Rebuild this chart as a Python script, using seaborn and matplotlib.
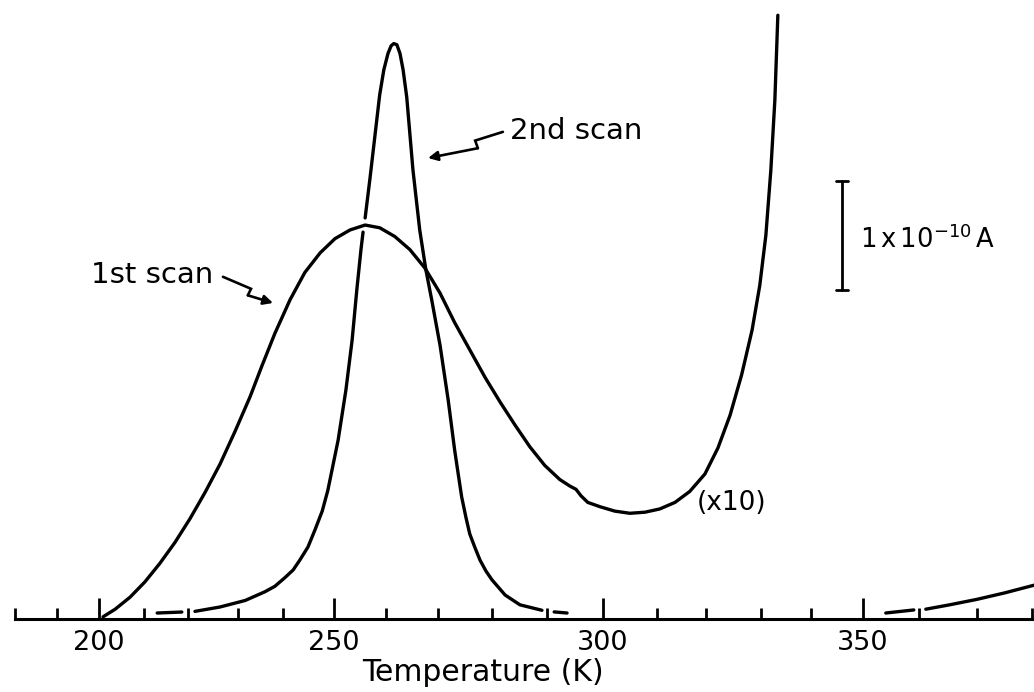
import numpy as np
import pandas as pd
import matplotlib
matplotlib.use("Agg")
import matplotlib.pyplot as plt
import seaborn as sns

# ---------------- data (temperature in K, current in units of 1e-10 A) ----------------
scan1_T = [200.9, 203.6, 206.9, 210.2, 213.6, 217.0, 220.4, 223.4, 226.4, 229.4, 232.7,
           235.3, 238.2, 241.4, 244.3, 247.3, 250.2, 253.1, 256.0, 258.8, 261.7, 264.6,
           267.5, 270.4, 273.1, 275.9, 278.7, 281.5, 284.2, 286.9, 289.6, 292.3, 294.1,
           295.2, 296.1, 297.3, 299.5, 302.2, 305.0, 307.8, 310.6, 313.7, 316.7, 319.8,
           322.2, 324.4, 326.5, 328.4, 329.8, 331.0, 332.0, 332.8, 333.4]
scan1_I = [0.02, 0.09, 0.20, 0.34, 0.51, 0.70, 0.92, 1.16, 1.42, 1.72, 2.04,
           2.32, 2.62, 2.93, 3.18, 3.36, 3.49, 3.57, 3.615, 3.59, 3.51, 3.39,
           3.22, 2.99, 2.72, 2.47, 2.22, 1.99, 1.78, 1.58, 1.41, 1.28, 1.22,
           1.19, 1.13, 1.07, 1.03, 0.99, 0.97, 0.98, 1.01, 1.07, 1.17, 1.33,
           1.57, 1.87, 2.24, 2.65, 3.06, 3.52, 4.12, 4.76, 5.54]

# 2nd scan, drawn in pieces (hand-drawn breaks)
scan2a_T = [213.0, 218.6]
scan2a_I = [0.055, 0.064]
scan2b_T = [221.4, 226.4, 231.6, 236.0, 238.2, 240.4, 242.0, 243.3, 244.9, 246.3, 247.7,
            248.8, 250.8, 252.3, 253.5, 254.4, 255.2, 255.6]
scan2b_I = [0.07, 0.11, 0.17, 0.25, 0.30, 0.38, 0.45, 0.54, 0.66, 0.82, 0.99,
            1.18, 1.64, 2.10, 2.56, 3.02, 3.39, 3.55]
scan2c_T = [256.0, 256.9, 257.9, 258.8, 259.6, 260.4, 261.0, 261.5, 262.1, 262.7, 263.3,
            264.0, 265.2, 266.5, 267.7, 268.8, 270.4, 271.9, 273.1, 273.7, 274.4, 275.2,
            275.9, 276.9, 277.8, 278.9, 280.0, 282.4, 285.1, 289.1]
scan2c_I = [3.68, 4.03, 4.44, 4.81, 5.04, 5.19, 5.26, 5.28, 5.27, 5.19, 5.04,
            4.79, 4.12, 3.57, 3.20, 2.93, 2.51, 2.01, 1.55, 1.35, 1.12, 0.93,
            0.78, 0.65, 0.54, 0.44, 0.36, 0.22, 0.13, 0.08]
scan2d_T = [291.3, 293.6]
scan2d_I = [0.065, 0.055]
scan2e_T = [354.1, 359.1]
scan2e_I = [0.055, 0.083]
scan2f_T = [361.2, 365.3, 370.0, 375.1, 380.4]
scan2f_I = [0.09, 0.13, 0.18, 0.24, 0.31]

major_ticks = [200, 250, 300, 350]
minor_ticks = [180, 190, 210, 220, 230, 240, 260, 270, 280, 290,
               310, 320, 330, 340, 360, 370, 380]
tick_labels = ["200", "250", "300", "350"]

# hand-drawn (slightly non-uniform) temperature axis calibration
axis_cal_T = [170, 180, 190, 200, 210, 220, 230, 240, 250, 260, 270, 280, 290,
              300, 310, 320, 330, 340, 350, 360, 370, 380, 390]
axis_cal_pos = [-27, 15, 57, 99, 144, 188, 238, 283, 334, 386, 438, 492, 547,
                603, 657, 706, 761, 811, 863, 919, 977, 1032, 1087]


def fwd(t):
    return np.interp(t, axis_cal_T, axis_cal_pos)


def inv(p):
    return np.interp(p, axis_cal_pos, axis_cal_T)


# ---------------- build tables ----------------
def seg_df(T, I, name):
    return pd.DataFrame({"T": T, "I": I, "seg": name})

df1 = seg_df(scan1_T, scan1_I, "s1")
df2 = pd.concat([
    seg_df(scan2a_T, scan2a_I, "a"),
    seg_df(scan2b_T, scan2b_I, "b"),
    seg_df(scan2c_T, scan2c_I, "c"),
    seg_df(scan2d_T, scan2d_I, "d"),
    seg_df(scan2e_T, scan2e_I, "e"),
    seg_df(scan2f_T, scan2f_I, "f"),
], ignore_index=True)

# ---------------- figure ----------------
sns.set_theme(style="white")
plt.rcParams["font.family"] = ["DejaVu Sans"]

W, H = 1034, 692
fig = plt.figure(figsize=(W / 100, H / 100), dpi=100)
ax = fig.add_axes([15 / W, 1 - 619 / H, 1 - 15 / W, 619 / H])
ax.set_xscale("function", functions=(fwd, inv))

line_kw = dict(units="seg", estimator=None, sort=False, color="black", lw=2.4,
               ax=ax, legend=False, solid_joinstyle="round", solid_capstyle="round")
sns.lineplot(data=df1, x="T", y="I", **line_kw)
sns.lineplot(data=df2, x="T", y="I", **line_kw)

ax.set_xlim(180, 380.4)
ax.set_ylim(0, 5.68)

for s in ["top", "left", "right"]:
    ax.spines[s].set_visible(False)
ax.spines["bottom"].set_linewidth(2.2)
ax.spines["bottom"].set_color("black")

ax.set_xticks(major_ticks)
ax.set_xticklabels(tick_labels)
ax.set_xticks(minor_ticks, minor=True)
ax.tick_params(axis="x", which="both", bottom=True, top=False)
ax.tick_params(axis="x", which="major", direction="in", length=15, width=2.0,
               color="black", pad=8, labelsize=19.5, labelcolor="black")
ax.tick_params(axis="x", which="minor", direction="in", length=8, width=2.0,
               color="black")
ax.set_yticks([])
ax.set_ylabel("")
ax.set_xlabel("Temperature (K)", fontsize=21.5, color="black")
ax.xaxis.set_label_coords(0.459, -0.063)

# ---------------- annotations ----------------
lw_a = 1.9
# "1st scan" label with lightning arrow
ax.text(225.0, 3.16, "1st scan", fontsize=21, ha="right", va="center", color="black")
z1_T = [227.0, 232.9, 232.2]
z1_I = [3.14, 3.03, 2.97]
ax.plot(z1_T, z1_I, color="black", lw=lw_a, solid_joinstyle="miter")
ax.annotate("", xy=(237.8, 2.90), xytext=(232.2, 2.97),
            arrowprops=dict(arrowstyle="-|>", color="black", lw=lw_a,
                            mutation_scale=14, shrinkA=0, shrinkB=0))

# "2nd scan" label with lightning arrow
ax.text(283.3, 4.48, "2nd scan", fontsize=21, ha="left", va="center", color="black")
z2_T = [282.0, 276.9, 277.4]
z2_I = [4.47, 4.39, 4.32]
ax.plot(z2_T, z2_I, color="black", lw=lw_a, solid_joinstyle="miter")
ax.annotate("", xy=(268.1, 4.23), xytext=(277.4, 4.32),
            arrowprops=dict(arrowstyle="-|>", color="black", lw=lw_a,
                            mutation_scale=14, shrinkA=0, shrinkB=0))

# (x10) marker
ax.text(318.2, 1.06, "(x10)", fontsize=19, ha="left", va="center", color="black")

# current scale bar: 1 x 10^-10 A
bar_T = 346.0
bar_lo, bar_hi = 3.02, 4.02
ax.plot([bar_T, bar_T], [bar_lo, bar_hi], color="black", lw=2.0)
ax.plot([bar_T - 1.2, bar_T + 1.2], [bar_lo, bar_lo], color="black", lw=2.0)
ax.plot([bar_T - 1.2, bar_T + 1.2], [bar_hi, bar_hi], color="black", lw=2.0)
ax.text(349.4, 3.48, r"1$\,$x$\,$10$^{-10}\,$A", fontsize=18.5, ha="left",
        va="center", color="black")

fig.savefig("out.png", dpi=100, facecolor="white")
